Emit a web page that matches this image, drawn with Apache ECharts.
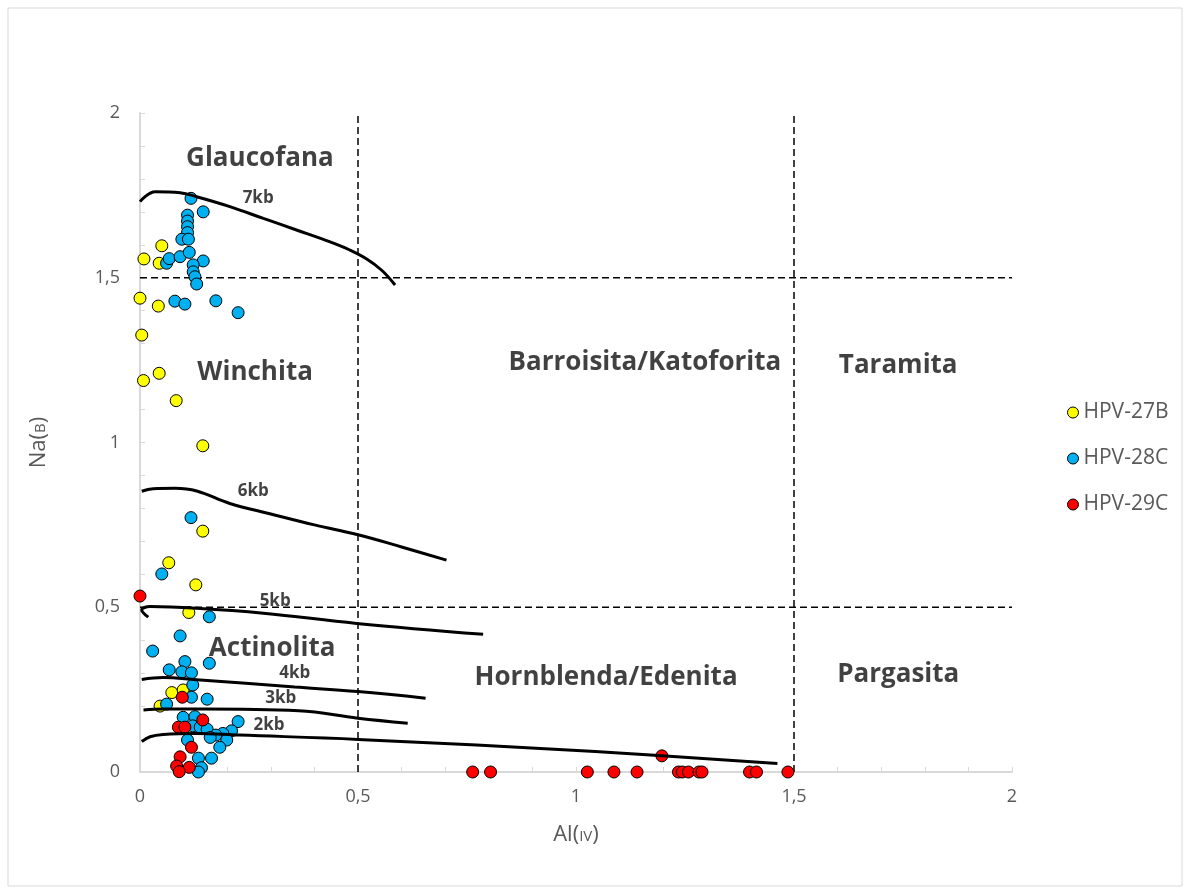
<!DOCTYPE html>
<html><head><meta charset="utf-8">
<script src="https://cdn.jsdelivr.net/npm/echarts@6/dist/echarts.min.js"></script>
<style>html,body{margin:0;padding:0;background:#fff}#c{width:1191px;height:895px}</style>
</head><body><div id="c"></div>
<script>
// ---- data ----
const xTickLabels = ['0','0,5','1','1,5','2'];
const yTickLabels = ['0','0,5','1','1,5','2'];
const hpv27B = [[0.05,1.597],[0.009,1.557],[0.044,1.544],[0.0,1.438],[0.042,1.414],[0.004,1.326],[0.008,1.188],[0.044,1.210],[0.083,1.127],[0.144,0.990],[0.144,0.731],[0.066,0.635],[0.128,0.568],[0.112,0.484],[0.073,0.241],[0.099,0.249],[0.046,0.200]];
const hpv28C = [[0.117,1.741],[0.145,1.700],[0.109,1.690],[0.109,1.672],[0.109,1.655],[0.109,1.637],[0.096,1.617],[0.111,1.617],[0.061,1.544],[0.067,1.558],[0.092,1.564],[0.113,1.577],[0.145,1.551],[0.122,1.539],[0.122,1.518],[0.126,1.503],[0.130,1.481],[0.080,1.429],[0.103,1.42],[0.174,1.430],[0.225,1.394],
  [0.117,0.772],[0.050,0.601],[0.159,0.471],[0.092,0.413],
  [0.029,0.367],[0.103,0.335],[0.159,0.330],[0.067,0.310],[0.096,0.304],[0.118,0.301],[0.121,0.264],[0.118,0.227],[0.154,0.221],[0.061,0.206],[0.099,0.166],[0.126,0.168],[0.121,0.140],[0.138,0.136],[0.154,0.130],[0.225,0.153],[0.210,0.125],[0.190,0.117],[0.174,0.112],[0.161,0.105],[0.109,0.097],[0.199,0.097],[0.183,0.075],[0.164,0.042],[0.134,0.042],[0.141,0.013],[0.134,0.0]];
const hpv29C = [[0.0,0.534],[0.097,0.227],[0.144,0.158],[0.088,0.136],[0.103,0.136],[0.118,0.075],[0.092,0.046],[0.084,0.018],[0.113,0.014],[0.090,0.001],[0.763,0],[0.804,0],[1.026,0],[1.087,0],[1.140,0],[1.235,0],[1.244,0],[1.258,0],[1.282,0],[1.289,0],[1.398,0],[1.414,0],[1.486,0],[1.197,0.049]];
const kb7 = [[0.0,1.731],[0.035,1.761],[0.092,1.758],[0.13,1.746],[0.206,1.716],[0.283,1.680],[0.359,1.645],[0.436,1.609],[0.48,1.585],[0.52,1.557],[0.555,1.522],[0.585,1.478]];
const kb6 = [[0.004,0.852],[0.03,0.860],[0.08,0.861],[0.13,0.853],[0.206,0.815],[0.3,0.783],[0.4,0.750],[0.5,0.720],[0.6,0.683],[0.703,0.643]];
const kb5 = [[0.019,0.470],[0.004,0.492],[0.023,0.502],[0.13,0.497],[0.283,0.482],[0.497,0.451],[0.787,0.418]];
const kb4 = [[0.004,0.281],[0.053,0.287],[0.13,0.280],[0.355,0.258],[0.5,0.244],[0.655,0.224]];
const kb3 = [[0.008,0.188],[0.053,0.191],[0.145,0.191],[0.364,0.186],[0.5,0.163],[0.614,0.148]];
const kb2 = [[0.004,0.092],[0.023,0.107],[0.053,0.114],[0.13,0.117],[0.228,0.112],[0.5,0.099],[1.044,0.062],[1.462,0.026]];
const curveNames = ['7kb','6kb','5kb','4kb','3kb','2kb'];
const curveLabelPos = [[0.271,1.741],[0.26,0.851],[0.31,0.517],[0.355,0.30],[0.323,0.224],[0.296,0.143]];
const regionNames = ['Glaucofana','Winchita','Barroisita/Katoforita','Taramita','Actinolita','Hornblenda/Edenita','Pargasita'];
const regionPos = [[0.275,1.862],[0.264,1.211],[1.158,1.241],[1.739,1.232],[0.303,0.376],[1.069,0.285],[1.739,0.297]];
const dividers = [[[0.5,0],[0.5,2]],[[1.5,0],[1.5,2]],[[0,1.5],[2,1.5]],[[0,0.5],[2,0.5]]];

// ---- chart ----
const chart = echarts.init(document.getElementById('c'));
const fmt = v => String(Math.round(v*10)/10).replace('.',',');
const series = [];
dividers.forEach(d => series.push({type:'line', data:d, symbol:'none', silent:true, z:1,
  lineStyle:{color:'#000', width:1.5, type:[7,4]}}));
const mk = (name, data, color, z) => ({name, type:'scatter', data, symbolSize:12, clip:false, z,
  itemStyle:{color, borderColor:'#000', borderWidth:1, opacity:1}});
series.push(mk('HPV-27B', hpv27B, '#FFFF00', 3));
series.push(mk('HPV-28C', hpv28C, '#00B0F0', 4));
series.push(mk('HPV-29C', hpv29C, '#FF0000', 5));
[kb7,kb6,kb5,kb4,kb3,kb2].forEach(c => series.push({type:'line', data:c, symbol:'none', smooth:0.4, silent:true, z:6,
  lineStyle:{color:'#000', width:3}}));
series.push({type:'scatter', silent:true, z:7, symbolSize:0, clip:false,
  data: curveLabelPos.map((p,i)=>({value:p, name:curveNames[i]})),
  label:{show:true, position:'inside', formatter:'{b}', color:'#111', fontFamily:'Open Sans', fontWeight:'bold', fontSize:17}});
series.push({type:'scatter', silent:true, z:7, symbolSize:0, clip:false,
  data: regionPos.map((p,i)=>({value:p, name:regionNames[i]})),
  label:{show:true, position:'inside', formatter:'{b}', color:'#111', fontFamily:'Open Sans', fontWeight:'bold', fontSize:26}});

const axisCommon = {
  min:0, max:2, interval:0.5,
  axisLine:{show:true, onZero:false, lineStyle:{color:'#d9d9d9', width:2}},
  axisTick:{show:true, inside:true, length:5, lineStyle:{color:'#d9d9d9', width:1}},
  minorTick:{show:true, splitNumber:5, length:5, lineStyle:{color:'#d9d9d9', width:1}},
  splitLine:{show:false},
  axisLabel:{color:'#595959', fontSize:18, fontFamily:'Open Sans', formatter:fmt, margin:16},
  nameLocation:'middle',
  nameTextStyle:{color:'#595959', fontSize:22, fontFamily:'Open Sans',
    rich:{s:{fontSize:15, color:'#595959', fontFamily:'Open Sans', padding:[4,0,0,0]}}}
};
chart.setOption({
  animation:false,
  backgroundColor:'#fff',
  graphic:[{type:'rect', shape:{x:8,y:8,width:1174,height:878}, style:{fill:'none', stroke:'#d9d9d9', lineWidth:1}, silent:true}],
  grid:{left:140, right:179, top:113, bottom:123, containLabel:false},
  legend:{data:['HPV-27B','HPV-28C','HPV-29C'], orient:'vertical', left:1062, top:397, itemGap:25,
    itemWidth:11, itemHeight:11, icon:'circle', itemStyle:{borderColor:'#000', borderWidth:1},
    textStyle:{color:'#595959', fontSize:21, fontFamily:'Open Sans'}},
  xAxis:Object.assign({}, axisCommon, {type:'value', name:'Al({s|IV})', nameGap:52}),
  yAxis:Object.assign({}, axisCommon, {type:'value', name:'Na({s|B})', nameGap:90,
    axisLabel:Object.assign({}, axisCommon.axisLabel, {margin:20})}),
  series
});
</script></body></html>
